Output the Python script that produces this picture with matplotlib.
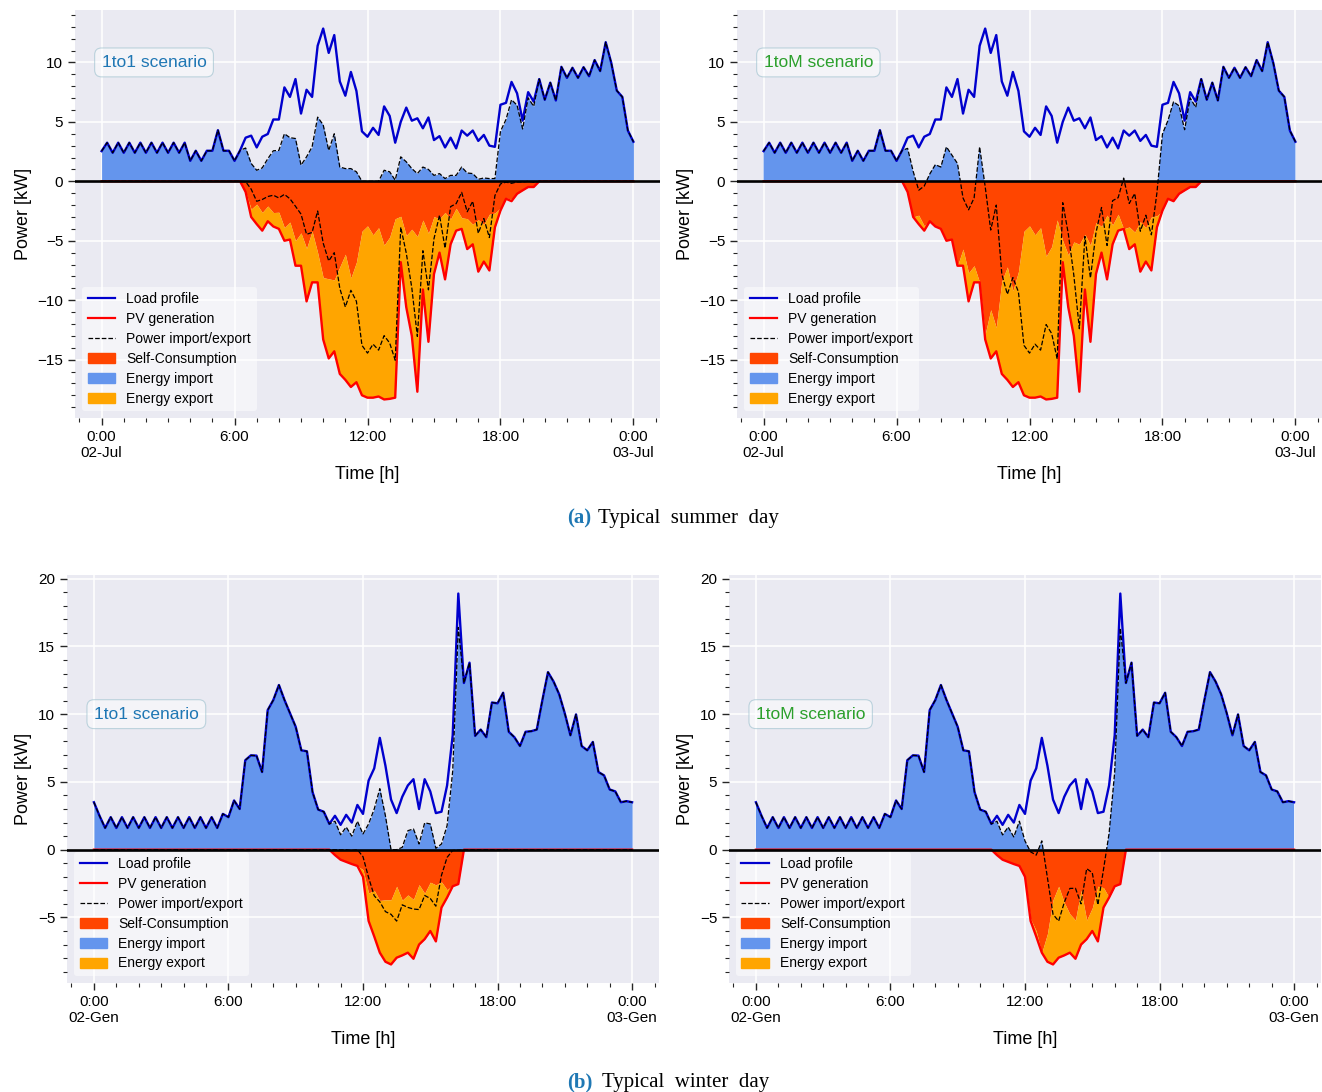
import numpy as np
import matplotlib.pyplot as plt
from matplotlib.lines import Line2D
from matplotlib.patches import Patch
from matplotlib.ticker import MultipleLocator

plt.rcParams['font.family'] = ['Liberation Sans', 'DejaVu Sans']

# 15-minute resolution, 0:00 -> 0:00 next day
hours = np.arange(97) * 0.25

summer_load = [2.54, 3.25, 2.4, 3.25, 2.4, 3.25, 2.4, 3.25, 2.4, 3.25, 2.4, 3.25, 2.4, 3.25, 2.4, 3.25,
               1.72, 2.57, 1.72, 2.57, 2.57, 4.3, 2.57, 2.57, 1.72, 2.6, 3.67, 3.84, 2.85, 3.75, 3.98, 5.2,
               5.2, 7.9, 7.1, 8.6, 5.7, 7.7, 7.1, 11.4, 12.85, 10.8, 12.3, 8.4, 7.2, 9.2, 7.6, 4.2,
               3.75, 4.5, 3.9, 6.3, 5.5, 3.25, 5.0, 6.2, 5.1, 5.3, 4.46, 5.37, 3.47, 3.8, 2.85, 3.67,
               2.77, 4.27, 3.84, 4.27, 3.4, 3.9, 3.0, 2.9, 6.44, 6.6, 8.36, 7.4, 5.1, 7.5, 6.7, 8.6,
               6.86, 8.3, 6.8, 9.63, 8.7, 9.55, 8.7, 9.6, 8.84, 10.2, 9.27, 11.7, 9.97, 7.63, 7.1, 4.27,
               3.33]
summer_pv = [0] * 26 + [-0.9, -3.0, -3.6, -4.15, -3.36, -3.8, -4.0, -5.0, -4.9, -7.1, -7.1, -10.1,
                        -8.5, -8.5, -13.3, -14.9, -14.3, -16.2, -16.7, -17.3, -16.9, -18.0, -18.2, -18.2,
                        -18.1, -18.35, -18.3, -18.2, -6.8, -10.6, -13.0, -17.7, -9.1, -13.5, -7.8, -6.0,
                        -8.25, -5.3, -4.15, -4.0, -5.7, -5.3, -7.6, -6.75, -7.5, -3.87, -2.46, -1.47,
                        -1.67, -1.05, -0.76, -0.48, -0.48] + [0] * 18
summer_import_1to1 = (summer_load[:26]
                      + [2.8, 1.5, 0.93, 1.13, 1.9, 2.57, 2.6, 4.0, 3.67, 3.6, 1.36, 2.06, 2.9, 5.4,
                         4.75, 2.6, 4.0, 1.2, 1.07, 1.07, 0.8, 0, 0, 0, 0, 0.93, 0.8, 0.1, 2.06, 1.64,
                         1.07, 0.65, 1.2, 1.0, 0.5, 0.65, 0.23, 0.5, 0.5, 1.2, 0.7, 0.65, 0.17, 0.28,
                         0.23, 0.23, 4.2, 5.2, 6.86, 6.4, 4.4, 7.02, 6.3]
                      + summer_load[79:])

winter_load = [3.5, 2.5, 1.6, 2.4, 1.6, 2.4, 1.6, 2.4, 1.6, 2.4, 1.6, 2.4, 1.6, 2.4, 1.6, 2.4,
               1.6, 2.4, 1.6, 2.4, 1.6, 2.4, 1.6, 2.64, 2.4, 3.63, 3.0, 6.6, 6.96, 6.94, 5.73, 10.3,
               11.04, 12.15, 11.04, 10.05, 9.06, 7.33, 7.26, 4.25, 2.96, 2.8, 1.9, 2.5, 1.83, 2.57, 2.0, 3.3,
               2.64, 5.1, 6.0, 8.25, 6.2, 3.7, 2.7, 3.9, 4.74, 5.2, 3.0, 5.2, 4.3, 2.7, 2.8, 4.74,
               8.44, 18.9, 12.3, 13.8, 8.4, 8.86, 8.3, 10.86, 10.8, 11.58, 8.7, 8.3, 7.65, 8.7, 8.74, 8.86,
               11.04, 13.1, 12.4, 11.46, 10.05, 8.44, 9.98, 7.65, 7.33, 7.95, 5.73, 5.48, 4.44, 4.3, 3.5, 3.58,
               3.5]
winter_pv = [0] * 43 + [-0.4, -0.74, -0.9, -1.06, -1.2, -2.0, -5.26, -6.4, -7.6, -8.27, -8.47, -7.97,
                        -7.8, -7.6, -8.05, -7.0, -6.6, -6.0, -6.77, -4.27, -3.53, -2.7, -2.54] + [0] * 31
winter_import_1to1 = (winter_load[:43]
                      + [2.1, 1.1, 1.67, 1.0, 2.1, 1.16, 1.9, 3.0, 4.5, 2.5, 0.0, 0.0, 0.17, 1.4, 1.53,
                         0.42, 1.98, 1.9, 0.1, 0.42, 1.78, 5.8, 16.4]
                      + winter_load[66:])

tick_hours = [0, 6, 12, 18, 24]
summer_ticks = ['0:00\n02-Jul', '6:00', '12:00', '18:00', '0:00\n03-Jul']
winter_ticks = ['0:00\n02-Gen', '6:00', '12:00', '18:00', '0:00\n03-Gen']

LOAD_C = '#0000CD'
PV_C = 'red'
IMP_C = 'cornflowerblue'
SELF_C = 'orangered'
EXP_C = 'orange'


def draw_panel(ax, load, pv, imp_1to1, scenario, tick_labels):
    load = np.array(load, dtype=float)
    pv = np.array(pv, dtype=float)
    ax.set_facecolor('#EAEAF2')
    for s in ax.spines.values():
        s.set_visible(False)
    ax.set_axisbelow(True)
    ax.grid(True, which='major', color='white', lw=1.1)

    if scenario == '1to1':
        # import summed over users, export = what is left of the net balance
        imp = np.array(imp_1to1, dtype=float)
        exp = load + pv - imp
        self_edge = imp - load
        ax.fill_between(hours, 0, imp, color=IMP_C, lw=0)
        ax.fill_between(hours, 0, self_edge, color=SELF_C, lw=0)
        ax.fill_between(hours, self_edge, pv, color=EXP_C, lw=0)
        ax.plot(hours, load, color=LOAD_C, lw=1.7)
        ax.plot(hours, pv, color=PV_C, lw=1.7)
        ax.plot(hours, imp, 'k--', lw=0.9)
        ax.plot(hours, exp, 'k--', lw=0.9)
        txt_c = '#1f77b4'
    else:
        net = load + pv
        self_edge = -np.minimum(load, -pv)
        ax.fill_between(hours, 0, net, where=net > 0, interpolate=True, color=IMP_C, lw=0)
        ax.fill_between(hours, 0, self_edge, color=SELF_C, lw=0)
        ax.fill_between(hours, self_edge, pv, color=EXP_C, lw=0)
        ax.plot(hours, load, color=LOAD_C, lw=1.7)
        ax.plot(hours, pv, color=PV_C, lw=1.7)
        ax.plot(hours, net, 'k--', lw=0.9)
        txt_c = '#2ca02c'

    ax.axhline(0, color='black', lw=1.9)

    ax.set_xticks(tick_hours)
    ax.set_xticklabels(tick_labels)
    ax.xaxis.set_minor_locator(MultipleLocator(1))
    ax.yaxis.set_major_locator(MultipleLocator(5))
    ax.yaxis.set_minor_locator(MultipleLocator(1))
    ax.tick_params(which='major', direction='out', length=5, width=1, color='#262626',
                   labelsize=11, bottom=True, left=True)
    ax.tick_params(which='minor', direction='out', length=3, width=0.8, color='#262626',
                   bottom=True, left=True)
    ax.set_xlabel('Time [h]', fontsize=13)
    ax.set_ylabel('Power [kW]', fontsize=13)

    ax.text(0.0, 10, f'{scenario} scenario', color=txt_c, fontsize=12.5, ha='left', va='center',
            bbox=dict(boxstyle='round,pad=0.4', fc=(1, 1, 1, 0.5), ec=(0.6, 0.75, 0.8, 0.6), lw=0.8))

    handles = [Line2D([], [], color=LOAD_C, lw=1.6),
               Line2D([], [], color=PV_C, lw=1.6),
               Line2D([], [], color='k', ls='--', lw=0.9),
               Patch(color=SELF_C), Patch(color=IMP_C), Patch(color=EXP_C)]
    labels = ['Load profile', 'PV generation', 'Power import/export',
              'Self-Consumption', 'Energy import', 'Energy export']
    ax.legend(handles, labels, loc='lower left', fontsize=10, frameon=True, labelspacing=0.42,
              facecolor='white', framealpha=0.5, edgecolor='none', fancybox=True)


fig = plt.figure(figsize=(13.22, 10.92), dpi=100)
W, H = 1322, 1092
ax_tl = fig.add_axes([75 / W, 1 - 418 / H, 585 / W, 408 / H])
ax_tr = fig.add_axes([737 / W, 1 - 418 / H, 585 / W, 408 / H])
ax_bl = fig.add_axes([67 / W, 1 - 983 / H, 592 / W, 408 / H])
ax_br = fig.add_axes([729 / W, 1 - 983 / H, 592 / W, 408 / H])

draw_panel(ax_tl, summer_load, summer_pv, summer_import_1to1, '1to1', summer_ticks)
draw_panel(ax_tr, summer_load, summer_pv, None, '1toM', summer_ticks)
draw_panel(ax_bl, winter_load, winter_pv, winter_import_1to1, '1to1', winter_ticks)
draw_panel(ax_br, winter_load, winter_pv, None, '1toM', winter_ticks)

cap_font = ['Liberation Serif', 'DejaVu Serif']
fig.text(591 / W, 1 - 518 / H, '(a)', ha='right', va='center', fontsize=15, fontweight='bold',
         color='#1f78b4', family=cap_font)
fig.text(598 / W, 1 - 518 / H, 'Typical  summer  day', ha='left', va='center', fontsize=15,
         family=cap_font)
fig.text(593 / W, 1 - 1082 / H, '(b)', ha='right', va='center', fontsize=15, fontweight='bold',
         color='#1f78b4', family=cap_font)
fig.text(602 / W, 1 - 1082 / H, 'Typical  winter  day', ha='left', va='center', fontsize=15,
         family=cap_font)

fig.savefig('out.png', dpi=100)
